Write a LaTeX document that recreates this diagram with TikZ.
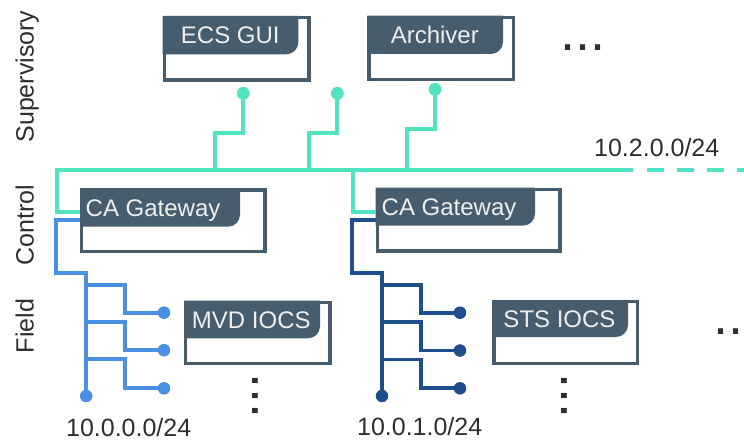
\documentclass[tikz,border=0pt]{standalone}
\usepackage{fontspec}
\setmainfont{Liberation Sans}
\usetikzlibrary{calc}

\definecolor{busgreen}{HTML}{50E3C2}
\definecolor{fieldblue}{HTML}{4A90E2}
\definecolor{fieldnavy}{HTML}{1F4E8C}
\definecolor{slate}{HTML}{475D6D}
\definecolor{ink}{HTML}{2E2E2E}
\definecolor{headtext}{HTML}{EEEEEE}

\tikzset{
  net/.style={line width=4pt, line cap=butt, line join=miter},
  fieldnet/.style={line width=3.8pt, line cap=butt, line join=miter},
  tap/.style={circle, fill=#1, draw=none, inner sep=0pt, minimum size=12.6pt},
  fieldtap/.style={circle, fill=#1, draw=none, inner sep=0pt, minimum size=12pt},
  hostframe/.style={rectangle, draw=slate, fill=white, line width=3.3pt, inner sep=0pt},
  hosttext/.style={text=headtext, inner sep=0pt, font=\fontsize{24}{28}\selectfont},
  netlabel/.style={text=ink, inner sep=0pt, font=\fontsize{25}{30}\selectfont},
  tierlabel/.style={text=ink, inner sep=0pt, font=\fontsize{25}{30}\selectfont},
  dotrow/.style={text=ink, inner sep=0pt, font=\fontsize{54}{54}\selectfont},
}

% host box: name, left, top, right, bottom, header right, header bottom
\newcommand\hostbox[7]{%
  \node[hostframe, minimum width={(#4-#2-3.3)*1pt}, minimum height={(#5-#3-3.3)*1pt}]
    (#1) at ({(#2+#4)/2},{(#3+#5)/2}) {};
  \fill[slate] (#2,#3) -- (#6,#3) -- (#6,{#7-12})
    .. controls (#6,{#7-5.4}) and ({#6-5.4},#7) .. ({#6-12},#7) -- (#2,#7) -- cycle;
}

\begin{document}
\begin{tikzpicture}[x=1pt, y=-1pt]
\clip (0,0) rectangle (744,441);
\fill[white] (0,0) rectangle (744,441);

% tier labels
\node[tierlabel, rotate=90, anchor=base] (tier-sup) at (33.5,76.5) {Supervisory};
\node[tierlabel, rotate=90, anchor=base] (tier-ctl) at (33.5,225) {Control};
\node[tierlabel, rotate=90, anchor=base] (tier-fld) at (33.5,326) {Field};

% control bus junctions
\coordinate (bus-west) at (56.8,170);
\coordinate (bus-ecs) at (215,170);
\coordinate (bus-mid) at (309,170);
\coordinate (bus-gw2) at (352.5,170);
\coordinate (bus-arch) at (406.7,170);
\coordinate (bus-solid-end) at (633,170);
\coordinate (bus-dash-start) at (647.3,170);
\coordinate (bus-east) at (770,170);

% supervisory taps
\node[tap=busgreen] (ecs-tap) at (243.3,93.3) {};
\node[tap=busgreen] (mid-tap) at (337.3,93.3) {};
\node[tap=busgreen] (arch-tap) at (435,89.3) {};

% field taps
\node[fieldtap=fieldblue] (f1-root) at (86.2,396) {};
\node[fieldtap=fieldblue] (f1-a) at (164,312.7) {};
\node[fieldtap=fieldblue] (f1-b) at (164,350.2) {};
\node[fieldtap=fieldblue] (f1-c) at (164,388.3) {};
\node[fieldtap=fieldnavy] (f2-root) at (382,396) {};
\node[fieldtap=fieldnavy] (f2-a) at (460,312.7) {};
\node[fieldtap=fieldnavy] (f2-b) at (460,350.5) {};
\node[fieldtap=fieldnavy] (f2-c) at (460,388.3) {};

% hosts
\hostbox{ecs}{162.7}{16}{310.7}{81.7}{298.3}{54.3}
\hostbox{arch}{367.3}{15.7}{515}{81}{503}{54}
\hostbox{gw1}{80}{188.3}{266.7}{253.3}{240}{226.7}
\hostbox{gw2}{375.7}{187.7}{561.7}{252.7}{535}{225.7}
\hostbox{mvd}{184}{300.7}{331.7}{365}{320}{338.3}
\hostbox{sts}{492.3}{300}{639.3}{365}{628}{337}

\node[hosttext, anchor=base] (ecs-text) at (230.3,44) {ECS GUI};
\node[hosttext, anchor=base] (arch-text) at (434.8,43.7) {Archiver};
\node[hosttext, anchor=base west] (gw1-text) at (85.5,216.8) {CA Gateway};
\node[hosttext, anchor=base west] (gw2-text) at (381.5,215.7) {CA Gateway};
\node[hosttext, anchor=base] (mvd-text) at (251.3,328.5) {MVD IOCS};
\node[hosttext, anchor=base] (sts-text) at (559.5,327.8) {STS IOCS};

% control network
\draw[net, busgreen] (gw1.west |- 0,212) -| (bus-west) -- (bus-solid-end);
\draw[net, busgreen, dash pattern=on 16.7pt off 13.3pt] (bus-dash-start) -- (bus-east);
\draw[net, busgreen] (ecs-tap.center) -- ++(0,39.4) -| (bus-ecs);
\draw[net, busgreen] (mid-tap.center) -- ++(0,39.4) -| (bus-mid);
\draw[net, busgreen] (arch-tap.center) -- ++(0,39.7) -| (bus-arch);
\draw[net, busgreen] (bus-gw2) |- (gw2.west |- 0,212);

% field network 10.0.0.0/24
\draw[fieldnet, fieldblue] (gw1.west |- 0,219.7) -| (56.3,273.3) -| (f1-root.center);
\draw[fieldnet, fieldblue] (f1-root.center |- 0,284.6) -| ([xshift=-38.7pt]f1-a.center) -- (f1-a.center);
\draw[fieldnet, fieldblue] (f1-root.center |- 0,321.7) -| ([xshift=-38.7pt]f1-b.center) -- (f1-b.center);
\draw[fieldnet, fieldblue] (f1-root.center |- 0,359.3) -| ([xshift=-38.7pt]f1-c.center) -- (f1-c.center);

% field network 10.0.1.0/24
\draw[fieldnet, fieldnavy] (gw2.west |- 0,220.3) -| (352.3,273.3) -| (f2-root.center);
\draw[fieldnet, fieldnavy] (f2-root.center |- 0,285) -| ([xshift=-38.7pt]f2-a.center) -- (f2-a.center);
\draw[fieldnet, fieldnavy] (f2-root.center |- 0,322) -| ([xshift=-38.7pt]f2-b.center) -- (f2-b.center);
\draw[fieldnet, fieldnavy] (f2-root.center |- 0,359.5) -| ([xshift=-38.7pt]f2-c.center) -- (f2-c.center);

% redraw taps over the line ends
\foreach \t/\c in {ecs-tap/busgreen, mid-tap/busgreen, arch-tap/busgreen,
                   f1-root/fieldblue, f1-a/fieldblue, f1-b/fieldblue, f1-c/fieldblue,
                   f2-root/fieldnavy, f2-a/fieldnavy, f2-b/fieldnavy, f2-c/fieldnavy}
  \fill[\c] (\t.center) circle[radius=6.2pt];

% network labels
\node[netlabel, anchor=base] (net-ctl) at (656.7,156.7) {10.2.0.0/24};
\node[netlabel, anchor=base] (net-f1) at (128.7,436) {10.0.0.0/24};
\node[netlabel, anchor=base] (net-f2) at (419.7,435) {10.0.1.0/24};

% continuation marks
\node[dotrow, anchor=base west] (sup-more) at (560.7,50.6) {...};
\node[dotrow, anchor=base west] (field-more) at (713.3,334.7) {..};
\node[dotrow, rotate=-90, anchor=base west] (mvd-more) at (252.3,373.5) {...};
\node[dotrow, rotate=-90, anchor=base west] (sts-more) at (561.3,373.5) {...};
\end{tikzpicture}
\end{document}
